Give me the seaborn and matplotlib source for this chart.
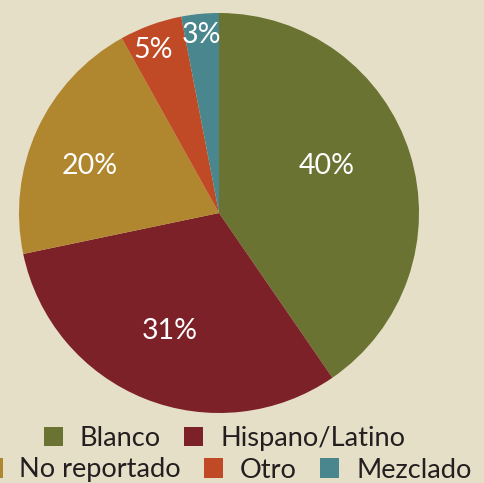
import matplotlib
matplotlib.use("Agg")
import matplotlib.pyplot as plt
import seaborn as sns
import numpy as np
from matplotlib.patches import Patch

categories = ["Blanco", "Hispano/Latino", "No reportado", "Otro", "Mezclado"]
values = [40, 31, 20, 5, 3]
labels = ["40%", "31%", "20%", "5%", "3%"]
colors = sns.color_palette(["#6b7332", "#7d2128", "#b0862e", "#bf4a25", "#4a868e"])
# label placement (radius fraction, angle nudge in degrees)
label_radius = [0.594, 0.628, 0.693, 0.89, 0.907]
label_nudge = [7.3, -1.4, 3.6, 1.6, 0.2]

bg = "#e6dfc8"
sns.set_style("white")
plt.rcParams["font.family"] = ["Lato", "DejaVu Sans"]

fig = plt.figure(figsize=(4.84, 4.83), dpi=100, facecolor=bg)
ax = fig.add_axes([19/484, (483-413)/483, 400/484, 400/483])
ax.set_facecolor(bg)
wedges, _ = ax.pie(values, colors=colors, startangle=90, counterclock=False,
                   wedgeprops=dict(linewidth=0))
ax.set_xlim(-1, 1)
ax.set_ylim(-1, 1)
ax.set_aspect("equal")

for w, lab, r, nd in zip(wedges, labels, label_radius, label_nudge):
    ang = np.deg2rad((w.theta1 + w.theta2) / 2 + nd)
    ax.text(r * np.cos(ang), r * np.sin(ang), lab, ha="center", va="center_baseline",
            color="white", fontsize=20.5)

def handles(idx):
    return [Patch(facecolor=colors[i], edgecolor="none", label=categories[i]) for i in idx]

leg_kw = dict(frameon=False, fontsize=19.6, handlelength=0.7, handleheight=0.7,
              handletextpad=0.62, columnspacing=0.85, borderaxespad=0, borderpad=0,
              labelcolor="#231f20")
l1 = fig.legend(handles=handles([0, 1]), ncol=2, loc="center",
                bbox_to_anchor=(224.5/484, 1 - 438.5/483), **leg_kw)
l2 = fig.legend(handles=handles([2, 3, 4]), ncol=3, loc="center",
                bbox_to_anchor=(227.5/484, 1 - 470/483), **leg_kw)

fig.savefig("out.png", dpi=100, facecolor=bg)
